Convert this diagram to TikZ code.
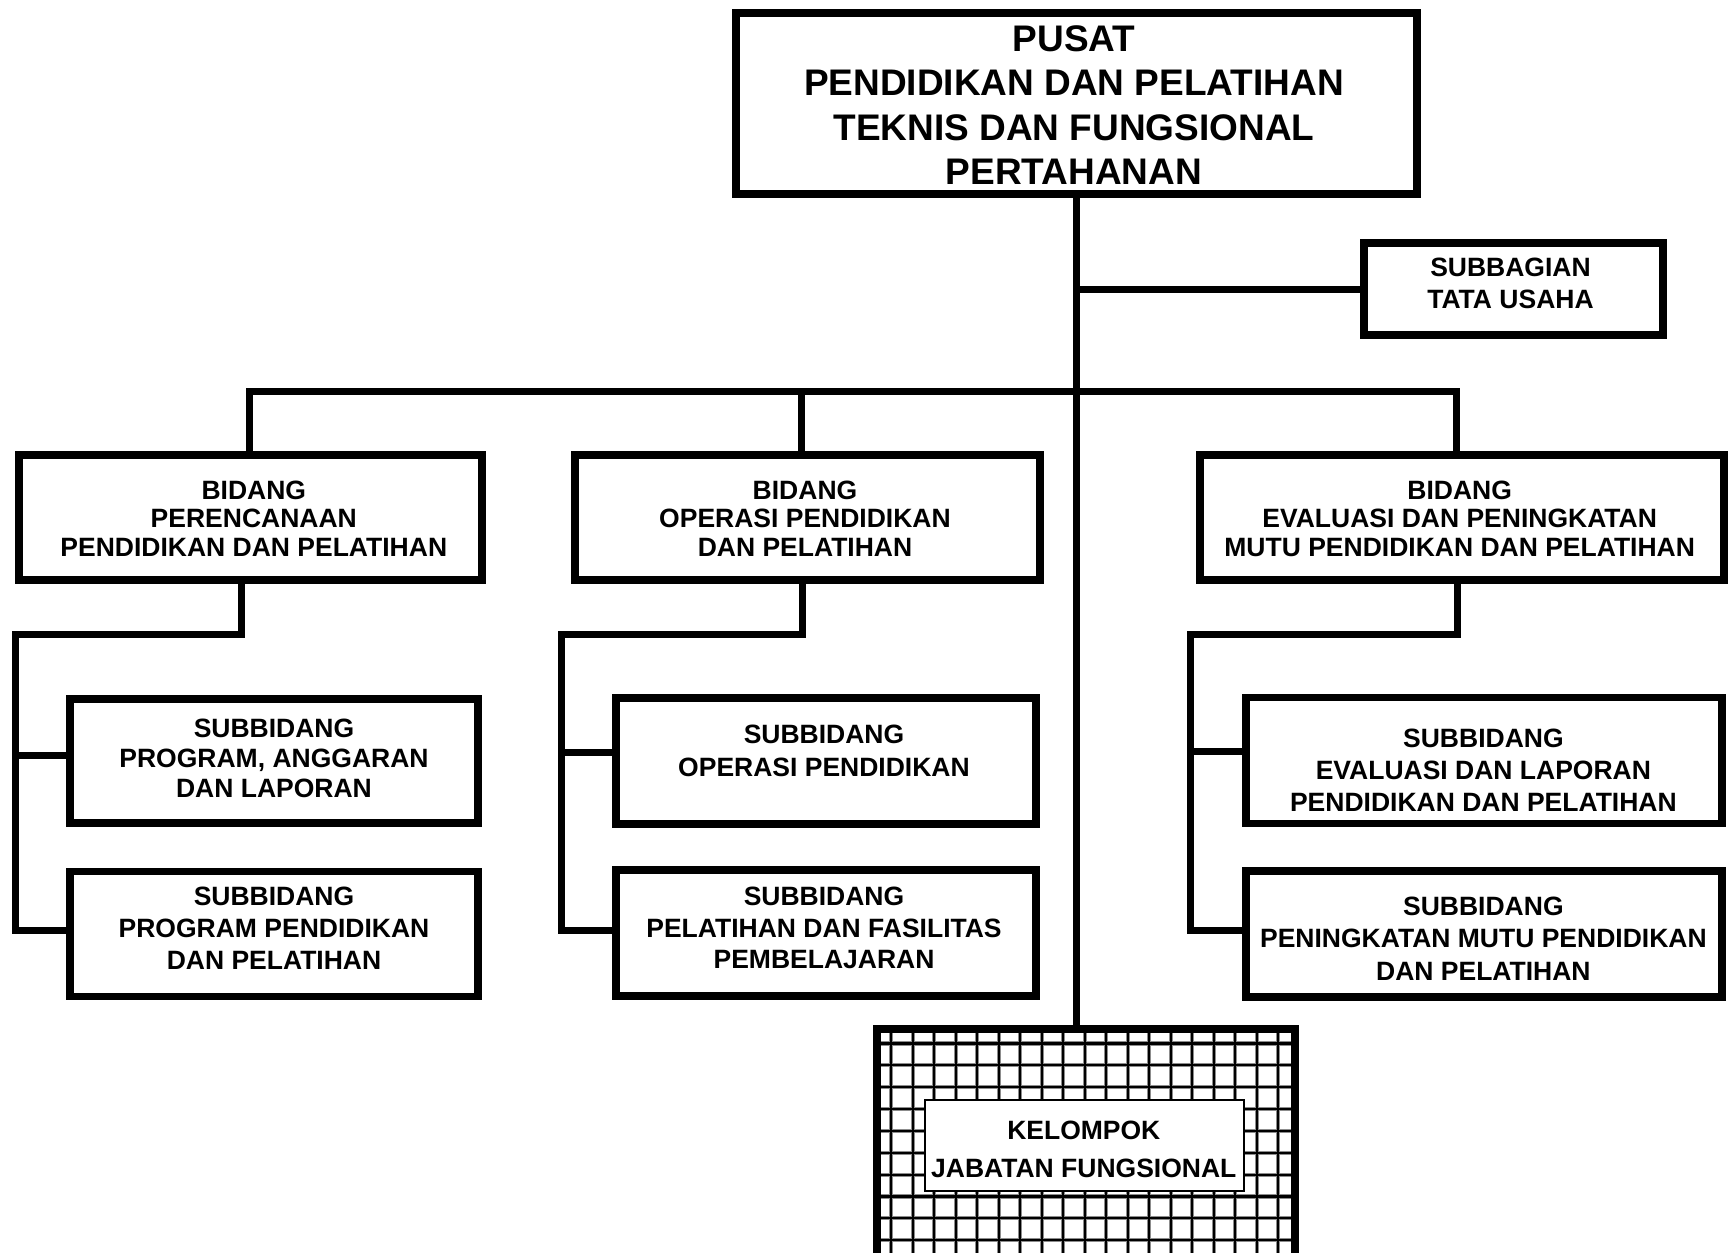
\documentclass[tikz,border=0pt]{standalone}
\usepackage{fontspec}
\setmainfont{Liberation Sans}
\begin{document}
\begin{tikzpicture}[x=1pt,y=-1pt,
  box/.style={draw, line width=7.5pt, inner sep=0pt, fill=white},
  conn/.style={line width=7pt},
  txt/.style={align=center, inner sep=0pt, font=\bfseries\fontsize{26.5}{#1}\selectfont},
  gridhalo/.style={line width=4.2pt, draw=black!45},
  gridline/.style={line width=2.2pt},
]
\fill[white] (0,0) rectangle (1730,1253);
\useasboundingbox (0,0) rectangle (1730,1253);

% top box
\node[box, line width=8.5pt, minimum width=681pt, minimum height=181pt] (top) at (1076.5,103.5) {};
\node[align=center, inner sep=0pt, font=\bfseries\fontsize{37}{44.5}\selectfont] (toptxt) at (1074,105.3)
  {PUSAT\\PENDIDIKAN DAN PELATIHAN\\TEKNIS DAN FUNGSIONAL\\PERTAHANAN};

% subbagian
\node[box, minimum width=299pt, minimum height=92pt] (sb) at (1513.5,289) {};
\node[txt=32] (sbtxt) at (1510.5,283) {SUBBAGIAN\\TATA USAHA};

% bidang
\node[box, minimum width=463pt, minimum height=125pt] (b1) at (250.5,517.5) {};
\node[box, minimum width=465pt, minimum height=125pt] (b2) at (807.5,517.5) {};
\node[box, minimum width=524pt, minimum height=125pt] (b3) at (1462,517.5) {};
\node[txt=28.5] (b1txt) at (253.8,518.5) {BIDANG\\PERENCANAAN\\PENDIDIKAN DAN PELATIHAN};
\node[txt=28.5] (b2txt) at (805,518.5) {BIDANG\\OPERASI PENDIDIKAN\\DAN PELATIHAN};
\node[txt=28.5] (b3txt) at (1459.7,518.5) {BIDANG\\EVALUASI DAN PENINGKATAN\\MUTU PENDIDIKAN DAN PELATIHAN};

% subbidang left
\node[box, minimum width=408pt, minimum height=124pt] (s11) at (274,761) {};
\node[box, minimum width=408pt, minimum height=125pt] (s12) at (274,934) {};
\node[txt=30] (s11txt) at (274,758) {SUBBIDANG\\PROGRAM, ANGGARAN\\DAN LAPORAN};
\node[txt=32] (s12txt) at (274,928) {SUBBIDANG\\PROGRAM PENDIDIKAN\\DAN PELATIHAN};

% subbidang middle
\node[box, minimum width=420pt, minimum height=126pt] (s21) at (826,761) {};
\node[box, minimum width=420pt, minimum height=126pt] (s22) at (826,933) {};
\node[txt=33] (s21txt) at (824,751) {SUBBIDANG\\OPERASI PENDIDIKAN};
\node[txt=31.5] (s22txt) at (824,928) {SUBBIDANG\\PELATIHAN DAN FASILITAS\\PEMBELAJARAN};

% subbidang right
\node[box, minimum width=476pt, minimum height=126pt] (s31) at (1484,760.5) {};
\node[box, minimum width=476pt, minimum height=126pt] (s32) at (1484,934) {};
\node[txt=32] (s31txt) at (1483.4,770) {SUBBIDANG\\EVALUASI DAN LAPORAN\\PENDIDIKAN DAN PELATIHAN};
\node[txt=32.5] (s32txt) at (1483.4,938.5) {SUBBIDANG\\PENINGKATAN MUTU PENDIDIKAN\\DAN PELATIHAN};

% kelompok jabatan fungsional (grid box, cut off at the bottom edge)
\node[inner sep=0pt, minimum width=418pt, minimum height=227pt] (grid) at (1086,1143) {};
\begin{scope}
  \clip (grid.north west) rectangle (grid.south east);
  \foreach \k in {0,...,18} {
    \draw[gridhalo] (891.2+21.5*\k,1020) -- (891.2+21.5*\k,1270);
  }
  \foreach \k in {0,...,9} {
    \draw[gridhalo] (870,1043.5+21.85*\k) -- (1300,1043.5+21.85*\k);
  }
  \foreach \k in {0,...,18} {
    \draw[gridline] (891.2+21.5*\k,1020) -- (891.2+21.5*\k,1270);
  }
  \foreach \k in {0,...,9} {
    \draw[gridline] (870,1043.5+21.85*\k) -- (1300,1043.5+21.85*\k);
  }
\end{scope}
\draw[line width=8pt] (grid.north west) rectangle (grid.south east);
\node[draw, fill=white, line width=2.2pt, inner sep=0pt, minimum width=319pt, minimum height=91.5pt] (kjf) at (1084.3,1145.5) {};
\node[txt=38] (kjftxt) at (1083.8,1149) {KELOMPOK\\JABATAN FUNGSIONAL};

% connectors
\coordinate (p1) at (249.4,391.7);
\coordinate (p2) at (801,391.7);
\coordinate (p3) at (1456.3,391.7);
\draw[conn] (top.south) -- (top.south |- grid.north);
\draw[conn] (top.south |- sb.west) -- (sb.west);
\draw[conn] (p1 |- b1.north) -- (p1) -- (p3) -- (p3 |- b3.north);
\draw[conn] (p2) -- (p2 |- b2.north);

% left branch
\coordinate (e1) at (241.6,634.4);
\coordinate (f1) at (15.5,634.4);
\coordinate (s11c) at ([yshift=6pt]s11.west);
\coordinate (s12c) at ([yshift=4pt]s12.west);
\draw[conn] (e1 |- b1.south) -- (e1) -- (f1) -- (f1 |- s12c) -- (s12c);
\draw[conn] (f1 |- s11c) -- (s11c);

% middle branch
\coordinate (e2) at (802,634.4);
\coordinate (f2) at (561.7,634.4);
\coordinate (s21c) at ([yshift=9pt]s21.west);
\coordinate (s22c) at ([yshift=3pt]s22.west);
\draw[conn] (e2 |- b2.south) -- (e2) -- (f2) -- (f2 |- s22c) -- (s22c);
\draw[conn] (f2 |- s21c) -- (s21c);

% right branch
\coordinate (e3) at (1457.5,634.4);
\coordinate (f3) at (1190.5,634.4);
\coordinate (s31c) at ([yshift=9pt]s31.west);
\coordinate (s32c) at ([yshift=4pt]s32.west);
\draw[conn] (e3 |- b3.south) -- (e3) -- (f3) -- (f3 |- s32c) -- (s32c);
\draw[conn] (f3 |- s31c) -- (s31c);
\end{tikzpicture}
\end{document}
